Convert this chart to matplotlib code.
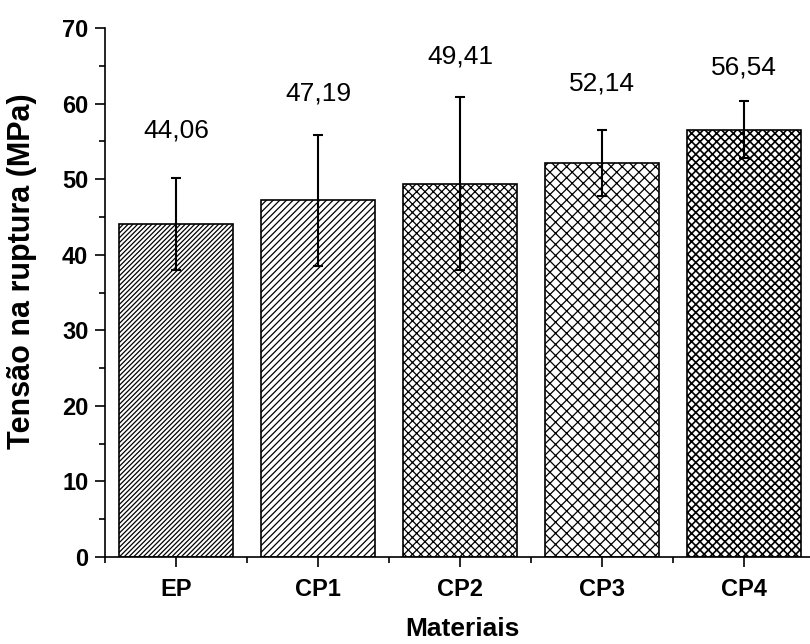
import numpy as np
import matplotlib
matplotlib.use('Agg')
import matplotlib.pyplot as plt
from matplotlib.ticker import MultipleLocator

plt.rcParams['font.family'] = ['Liberation Sans', 'DejaVu Sans']
plt.rcParams['hatch.linewidth'] = 0.9

# data
materiais = ['EP', 'CP1', 'CP2', 'CP3', 'CP4']
tensao = [44.06, 47.19, 49.41, 52.14, 56.54]
desvio = [6.1, 8.7, 11.4, 4.4, 3.8]
rotulos = ['44,06', '47,19', '49,41', '52,14', '56,54']
hachuras = ['///////', '/////', 'xxxx', 'xxx', 'xxxx']
hachura_lw = [0.9, 0.9, 0.9, 0.9, 1.2]
rotulo_y = [56.4, 61.4, 66.2, 62.7, 64.8]

fig = plt.figure(figsize=(8.1, 6.44), dpi=100)
ax = fig.add_axes([0.1296, 0.1351, 0.8704, 0.8214])

x = np.arange(1, len(materiais) + 1)
for xi, v, h, hl in zip(x, tensao, hachuras, hachura_lw):
    barras = ax.bar(xi, v, width=0.8, color='white', edgecolor='black',
                    linewidth=1.2, hatch=h, zorder=2)
    for b in barras:
        if hasattr(b, 'set_hatch_linewidth'):
            b.set_hatch_linewidth(hl)

ax.errorbar(x, tensao, yerr=desvio, fmt='none', ecolor='black',
            elinewidth=1.5, capsize=3.5, capthick=1.5, zorder=3)

for xi, yi, t in zip(x, rotulo_y, rotulos):
    ax.text(xi, yi, t, ha='center', va='center', fontsize=19)

ax.set_xlim(0.5, 5.465)
ax.set_ylim(0, 70)
ax.set_xticks(x)
ax.set_xticklabels(materiais, fontweight='bold', fontsize=17)
ax.xaxis.set_minor_locator(MultipleLocator(1, offset=0.5))
ax.yaxis.set_major_locator(MultipleLocator(10))
ax.yaxis.set_minor_locator(MultipleLocator(5))
for lab in ax.get_yticklabels():
    lab.set_fontweight('bold')
    lab.set_fontsize(17)

ax.tick_params(which='major', direction='out', length=7, width=1.2)
ax.tick_params(which='minor', direction='out', length=4, width=1.2)
ax.tick_params(axis='x', which='major', pad=8)
ax.tick_params(axis='y', which='major', pad=5)
ax.spines['top'].set_visible(False)
ax.spines['right'].set_visible(False)
ax.spines['left'].set_linewidth(1.2)
ax.spines['bottom'].set_linewidth(1.2)

ax.set_xlabel('Materiais', fontsize=19, fontweight='bold', va='center')
ax.xaxis.set_label_coords(0.507, -0.136)
ax.set_ylabel('Tensão na ruptura (MPa)', fontsize=22, fontweight='bold', va='center')
ax.yaxis.set_label_coords(-0.118, 0.54)

fig.savefig('out.png', dpi=100)
